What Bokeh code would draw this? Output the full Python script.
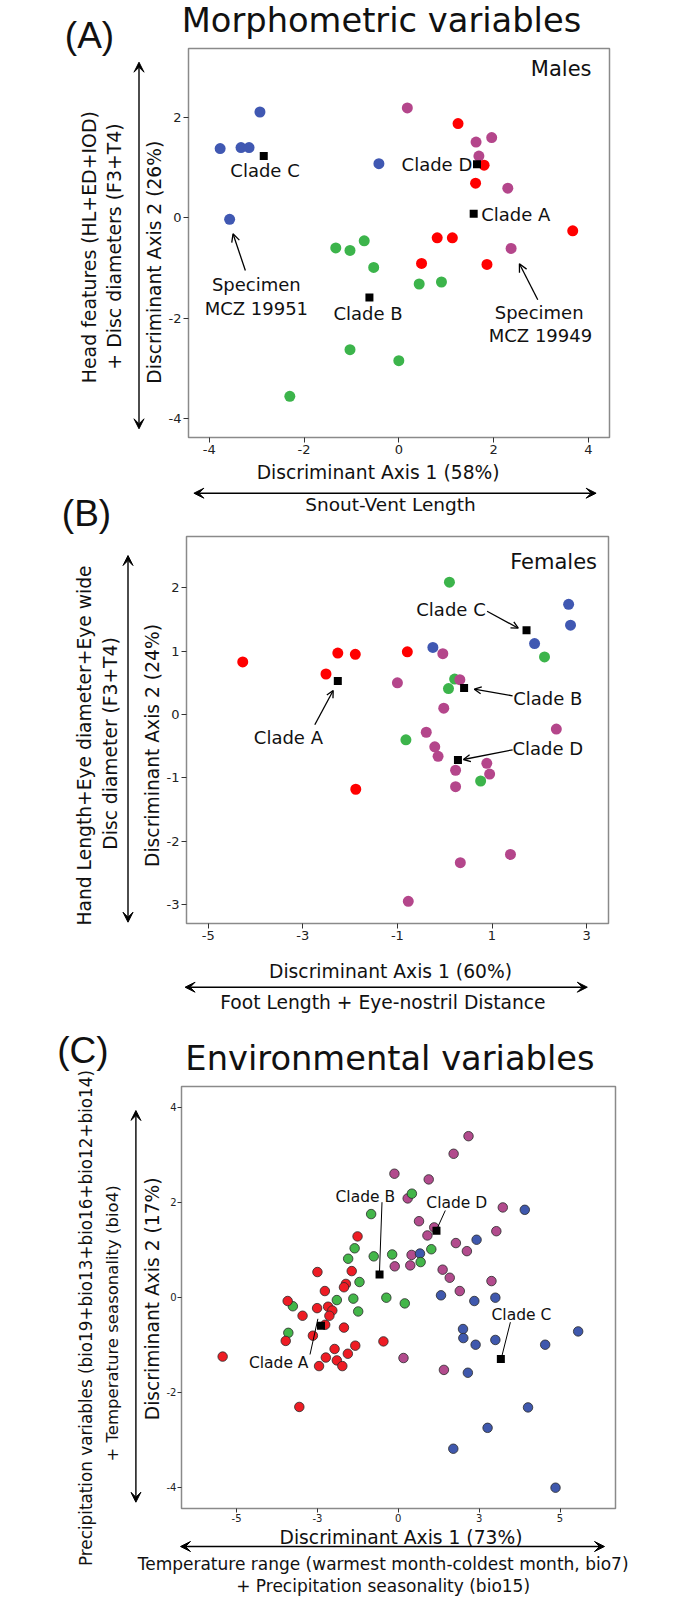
import math
from bokeh.plotting import figure
from bokeh.models import Range1d, Label, Arrow, VeeHead, OpenHead, FixedTicker
from bokeh.layouts import column, row
from bokeh.embed import file_html
from bokeh.resources import INLINE

# ---------------- data ----------------
# Panel A : males, morphometric variables
A_cladeA_x = [1.25, 1.80, 1.62, 3.67, 0.81, 1.13, 0.48, 1.86]
A_cladeA_y = [1.88, 1.05, 0.69, -0.26, -0.40, -0.40, -0.91, -0.93]
A_cladeB_x = [-1.33, -1.03, -0.73, -0.53, 0.43, 0.90, -1.03, 0.00, -2.30]
A_cladeB_y = [-0.60, -0.65, -0.46, -0.99, -1.32, -1.28, -2.63, -2.85, -3.56]
A_cladeC_x = [-3.77, -3.33, -3.16, -2.93, -3.57, -0.42]
A_cladeC_y = [1.38, 1.40, 1.40, 2.11, -0.03, 1.08]
A_cladeD_x = [0.18, 1.63, 1.96, 1.69, 2.30, 2.37]
A_cladeD_y = [2.19, 1.51, 1.60, 1.23, 0.59, -0.61]
A_centroid_x = [1.58, -0.62, -2.85, 1.65]
A_centroid_y = [0.08, -1.59, 1.23, 1.07]
A_xticks = [-4, -2, 0, 2, 4]
A_yticks = [-4, -2, 0, 2]

# Panel B : females, morphometric variables
B_cladeA_x = [-4.27, -2.51, -2.26, -1.89, -0.79, -1.88]
B_cladeA_y = [0.83, 0.64, 0.97, 0.95, 0.99, -1.18]
B_cladeB_x = [0.10, 2.11, 0.21, 0.08, -0.82, 0.76]
B_cladeB_y = [2.09, 0.91, 0.56, 0.41, -0.40, -1.05]
B_cladeC_x = [-0.25, 1.90, 2.62, 2.66]
B_cladeC_y = [1.06, 1.12, 1.74, 1.41]
B_cladeD_x = [-0.04, -1.00, 0.32, -0.02, -0.39, -0.21, -0.14, 0.23, 0.23, 0.89, 0.95, 2.36, 0.33, 1.39, -0.77]
B_cladeD_y = [0.96, 0.50, 0.55, 0.10, -0.28, -0.51, -0.66, -0.88, -1.14, -0.77, -0.94, -0.23, -2.34, -2.21, -2.95]
B_centroid_x = [-2.26, 0.41, 1.73, 0.28]
B_centroid_y = [0.53, 0.42, 1.33, -0.72]
B_xticks = [-5, -3, -1, 1, 3]
B_yticks = [-3, -2, -1, 0, 1, 2]

# Panel C : environmental variables
C_cladeA_x = [-1.26, -2.50, -1.44, -1.62, -1.68, -2.27, -3.42, -2.51, -2.17, -2.04, -2.13, -2.96, -2.26,
              -1.68, -2.64, -3.48, -0.46, -1.33, -1.97, -1.56, -5.43, -2.24, -1.90, -2.45, -1.73, -3.06]
C_cladeA_y = [1.28, 0.53, 0.55, 0.28, 0.21, 0.13, -0.08, -0.23, -0.20, -0.28, -0.39, -0.39, -0.58,
              -0.64, -0.81, -0.92, -0.93, -1.02, -1.09, -1.19, -1.25, -1.27, -1.33, -1.45, -1.45, -2.31]
C_cladeB_x = [0.42, -0.84, -1.35, -1.55, -0.76, -0.19, 1.02, 0.69, -1.20, -0.37, 0.20, -1.39, -1.90, -3.26, -1.24, -3.40]
C_cladeB_y = [2.18, 1.75, 1.03, 0.81, 0.86, 0.90, 1.01, 0.74, 0.32, -0.01, -0.13, -0.03, -0.06, -0.19, -0.30, -0.75]
C_cladeC_x = [3.91, 2.42, 0.67, 1.32, 2.35, 3.00, 2.00, 2.01, 2.39, 3.00, 4.54, 5.56, 2.15, 4.01, 2.76, 1.70, 4.86]
C_cladeC_y = [1.84, 1.21, 0.92, 0.04, -0.08, -0.01, -0.67, -0.86, -1.00, -0.90, -1.00, -0.72, -1.59, -2.32, -2.75, -3.19, -4.01]
C_cladeD_x = [2.17, 1.71, -0.12, 0.94, 0.29, 3.23, 0.64, 1.11, 0.90, 3.03, 1.78, 2.12, 0.41, 0.37, -0.11,
              1.37, 1.59, 2.88, 1.90, 0.16, 1.41]
C_cladeD_y = [3.39, 3.02, 2.60, 2.48, 2.08, 1.89, 1.60, 1.47, 1.30, 1.39, 1.14, 0.97, 0.89, 0.67, 0.65,
              0.58, 0.41, 0.34, 0.13, -1.28, -1.53]
C_centroid_x = [-2.39, -0.58, 3.17, 1.18]
C_centroid_y = [-0.60, 0.48, -1.30, 1.40]
C_xticks = [-5, -2.5, 0, 2.5, 5]
C_xtick_labels = ["-5", "-3", "0", "3", "5"]
C_yticks = [-4, -2, 0, 2, 4]

# ---------------- style ----------------
RED = "#ff0000"
GREEN = "#3cb44b"
BLUE = "#4058b2"
PURPLE = "#b4468b"
C_RED = "#ee1c24"
C_GREEN = "#43b649"
C_BLUE = "#3f58ad"
C_PURPLE = "#b24b8d"

FONT = "DejaVu Sans"
LETTER_FONT = "Liberation Sans"
TXT = "#111111"
V = math.pi / 2


def base(w, h, xr, yr, **kw):
    p = figure(width=w, height=h, x_range=Range1d(*xr), y_range=Range1d(*yr),
               output_backend="svg", toolbar_location=None, title=None,
               frame_align=False, **kw)
    p.background_fill_color = "white"
    p.border_fill_color = "white"
    return p


def strip(x0, x1, y0, y1):
    """blank annotation area; its data units are page pixels (y downwards)"""
    p = base(int(round(x1 - x0)), int(round(y1 - y0)), (x0, x1), (y1, y0),
             x_axis_type=None, y_axis_type=None,
             min_border_left=0, min_border_right=0, min_border_top=0, min_border_bottom=0)
    p.outline_line_color = None
    return p, None


def plot(px0, py0, w, h, mbl, mbr, mbt, mbb, xr, yr, xticks, xlabels, yticks, tick_px, tick_out, standoff):
    p = base(w, h, xr, yr, min_border_left=mbl, min_border_right=mbr,
             min_border_top=mbt, min_border_bottom=mbb)
    p.grid.visible = False
    p.outline_line_color = "#8a8a8a"
    p.outline_line_width = 1.5
    p.xaxis.ticker = FixedTicker(ticks=xticks)
    p.yaxis.ticker = FixedTicker(ticks=yticks)
    p.xaxis.major_label_overrides = {t: l for t, l in zip(xticks, xlabels)}
    p.yaxis.major_label_overrides = {t: str(t) for t in yticks}
    for ax in (p.xaxis[0], p.yaxis[0]):
        ax.axis_line_color = None
        ax.major_tick_line_color = "#333333"
        ax.major_tick_line_width = 1
        ax.major_tick_out = tick_out
        ax.major_tick_in = 0
        ax.minor_tick_line_color = None
        ax.major_label_text_font = FONT
        ax.major_label_text_font_size = f"{tick_px}px"
        ax.major_label_text_color = "#222222"
        ax.major_label_standoff = standoff
    info = dict(fl=px0 + mbl, fr=px0 + w - mbr, ft=py0 + mbt, fb=py0 + h - mbb,
                x0=xr[0], x1=xr[1], y0=yr[0], y1=yr[1])
    return p, info


def to_data(info, px, py):
    if info is None:
        return px, py
    x = info["x0"] + (px - info["fl"]) / (info["fr"] - info["fl"]) * (info["x1"] - info["x0"])
    y = info["y1"] - (py - info["ft"]) / (info["fb"] - info["ft"]) * (info["y1"] - info["y0"])
    return x, y


def text(fi, px, py, s, size, font=FONT, align="center", angle=0.0, baseline="middle"):
    p, info = fi
    x, y = to_data(info, px, py)
    p.add_layout(Label(x=x, y=y, text=s, text_font=font, text_font_size=f"{size}px",
                       text_align=align, text_baseline=baseline, angle=angle, text_color=TXT))


def arrow(fi, a, b, both=False, kind="vee", size=10, lw=1.4):
    p, info = fi
    x0, y0 = to_data(info, *a)
    x1, y1 = to_data(info, *b)

    def head():
        if kind == "vee":
            return VeeHead(size=size, fill_color="black", line_color="black", line_width=1)
        if kind == "open":
            return OpenHead(size=size, line_color="black", line_width=lw)
        return None

    p.add_layout(Arrow(x_start=x0, y_start=y0, x_end=x1, y_end=y1, line_width=lw,
                       line_color="black", end=head(), start=head() if both else None))


# ================= panel A (page y 0 -> 534) =================
leftA = strip(0, 165, 0, 460)
topA = strip(165, 681, 0, 44)
mainA = plot(165, 44, 516, 416, 22, 72, 4, 23, (-4.438, 4.446), (-4.381, 3.376),
             A_xticks, [str(t) for t in A_xticks], A_yticks, 13, 5, 2)
botA = strip(0, 681, 460, 534)

pa = mainA[0]
for xs, ys, c in ((A_cladeC_x, A_cladeC_y, BLUE), (A_cladeB_x, A_cladeB_y, GREEN),
                  (A_cladeD_x, A_cladeD_y, PURPLE), (A_cladeA_x, A_cladeA_y, RED)):
    pa.scatter(xs, ys, marker="circle", size=11, fill_color=c, line_color=None)
pa.scatter(A_centroid_x, A_centroid_y, marker="square", size=8, fill_color="black", line_color=None)

text(leftA, 89, 34.5, "(A)", 37, font=LETTER_FONT)
text(topA, 381, 19.5, "Morphometric variables", 33.7)
text(mainA, 591, 68, "Males", 21, align="right")
text(mainA, 263.7, 170, "Clade C", 18)
text(mainA, 436, 163.7, "Clade D", 18)
text(mainA, 480.4, 213.7, "Clade A", 18, align="left")
text(mainA, 367, 313, "Clade B", 18)
text(mainA, 255, 284.3, "Specimen", 18)
text(mainA, 255, 308.3, "MCZ 19951", 18)
text(mainA, 538.5, 311.7, "Specimen", 18)
text(mainA, 539.8, 335, "MCZ 19949", 18)
arrow(mainA, (244, 270), (231.6, 233.3), kind="open", size=8, lw=1.3)
arrow(mainA, (537.1, 299.3), (518.7, 263.3), kind="open", size=8, lw=1.3)
text(leftA, 88, 246.7, "Head features (HL+ED+IOD)", 18.9, angle=V)
text(leftA, 113, 246, "+ Disc diameters (F3+T4)", 18.9, angle=V)
arrow(leftA, (138.5, 61.7), (138.5, 428.3), both=True)
text(leftA, 153.8, 261.7, "Discriminant Axis 2 (26%)", 18.7, angle=V)
text(botA, 377.6, 471.7, "Discriminant Axis 1 (58%)", 18.7)
arrow(botA, (193.4, 492.7), (595.6, 492.7), both=True)
text(botA, 390, 503.5, "Snout-Vent Length", 18.5)
text(botA, 86, 513.3, "(B)", 37, font=LETTER_FONT)

# ================= panel B (page y 534 -> 1028) =================
leftB = strip(0, 163, 534, 950)
mainB = plot(163, 534, 518, 416, 23, 73, 2, 27, (-5.459, 3.463), (-3.300, 2.811),
             B_xticks, [str(t) for t in B_xticks], B_yticks, 13, 5, 2)
botB = strip(0, 681, 950, 1028)

pb = mainB[0]
for xs, ys, c in ((B_cladeA_x, B_cladeA_y, RED), (B_cladeC_x, B_cladeC_y, BLUE),
                  (B_cladeB_x, B_cladeB_y, GREEN), (B_cladeD_x, B_cladeD_y, PURPLE)):
    pb.scatter(xs, ys, marker="circle", size=11, fill_color=c, line_color=None)
pb.scatter(B_centroid_x, B_centroid_y, marker="square", size=8, fill_color="black", line_color=None)

text(mainB, 596.5, 561.7, "Females", 21, align="right")
text(mainB, 450.5, 609, "Clade C", 18)
arrow(mainB, (486.6, 610.7), (517.8, 627.7), kind="open", size=7, lw=1.3)
text(mainB, 547.3, 698, "Clade B", 18)
arrow(mainB, (512.1, 695.3), (473.8, 688.7), kind="open", size=7, lw=1.3)
text(mainB, 287.9, 736.7, "Clade A", 18)
arrow(mainB, (314.3, 724.3), (332.7, 690), kind="open", size=7, lw=1.3)
text(mainB, 547.3, 748.3, "Clade D", 18)
arrow(mainB, (512.1, 749.3), (462.9, 759), kind="open", size=7, lw=1.3)
text(leftB, 83.5, 745, "Hand Length+Eye diameter+Eye wide", 18.7, angle=V)
text(leftB, 110, 743, "Disc diameter (F3+T4)", 18.7, angle=V)
arrow(leftB, (127.5, 555), (127.5, 921.7), both=True)
text(leftB, 151.6, 745, "Discriminant Axis 2 (24%)", 18.7, angle=V)
text(botB, 390, 970.7, "Discriminant Axis 1 (60%)", 18.7)
arrow(botB, (184.6, 986.7), (586.8, 986.7), both=True)
text(botB, 382.4, 1001.7, "Foot Length + Eye-nostril Distance", 18.7)

# ================= panel C (page y 1028 -> 1597) =================
leftC = strip(0, 130, 1028, 1597)
topC = strip(130, 681, 1028, 1082)
left2C = strip(130, 163, 1082, 1526)
mainC = plot(163, 1082, 518, 444, 18, 66, 4, 18, (-6.702, 6.714), (-4.448, 4.436),
             C_xticks, C_xtick_labels, C_yticks, 10, 4, 1)
botC = strip(130, 681, 1526, 1597)

pc = mainC[0]
for xs, ys, c in ((C_cladeD_x, C_cladeD_y, C_PURPLE), (C_cladeC_x, C_cladeC_y, C_BLUE),
                  (C_cladeB_x, C_cladeB_y, C_GREEN), (C_cladeA_x, C_cladeA_y, C_RED)):
    pc.scatter(xs, ys, marker="circle", size=9.5, fill_color=c, line_color="#2a2a2a", line_width=0.8)
pc.scatter(C_centroid_x, C_centroid_y, marker="square", size=8, fill_color="black", line_color=None)

text(leftC, 82.4, 1050, "(C)", 37, font=LETTER_FONT)
text(topC, 389.5, 1058.3, "Environmental variables", 33.7)
text(mainC, 364.8, 1196, "Clade B", 15.5)
arrow(mainC, (381.5, 1201.7), (378.9, 1273.7), kind=None, lw=1)
text(mainC, 456.3, 1202.3, "Clade D", 15.5)
arrow(mainC, (444.8, 1210), (436.5, 1228.3), kind=None, lw=1)
text(mainC, 520.9, 1314.3, "Clade C", 15.5)
arrow(mainC, (509.9, 1321.7), (501.1, 1356.7), kind=None, lw=1)
text(mainC, 278.2, 1362, "Clade A", 15.5)
arrow(mainC, (309.5, 1354), (317.4, 1318.3), kind=None, lw=1)
text(leftC, 85.7, 1317.5, "Precipitation variables (bio19+bio13+bio16+bio12+bio14)", 16.8, angle=V)
text(leftC, 112, 1323, "+ Temperature seasonality (bio4)", 16.5, angle=V)
arrow(left2C, (135.4, 1110), (135.4, 1501.7), both=True)
text(left2C, 151.6, 1298.3, "Discriminant Axis 2 (17%)", 18.7, angle=V)
text(botC, 400.5, 1536.5, "Discriminant Axis 1 (73%)", 18.7)
arrow(botC, (180, 1546), (604, 1546), both=True)
text(botC, 382.6, 1563.3, "Temperature range (warmest month-coldest month, bio7)", 17)
text(botC, 382.6, 1585.5, "+ Precipitation seasonality (bio15)", 17)

blockA = column(row(leftA[0], column(topA[0], mainA[0], spacing=0), spacing=0), botA[0], spacing=0)
blockB = column(row(leftB[0], mainB[0], spacing=0), botB[0], spacing=0)
blockC = row(leftC[0], column(topC[0], row(left2C[0], mainC[0], spacing=0), botC[0], spacing=0), spacing=0)
layout = column(blockA, blockB, blockC, spacing=0)
open("out.html", "w").write(file_html(layout, INLINE))
